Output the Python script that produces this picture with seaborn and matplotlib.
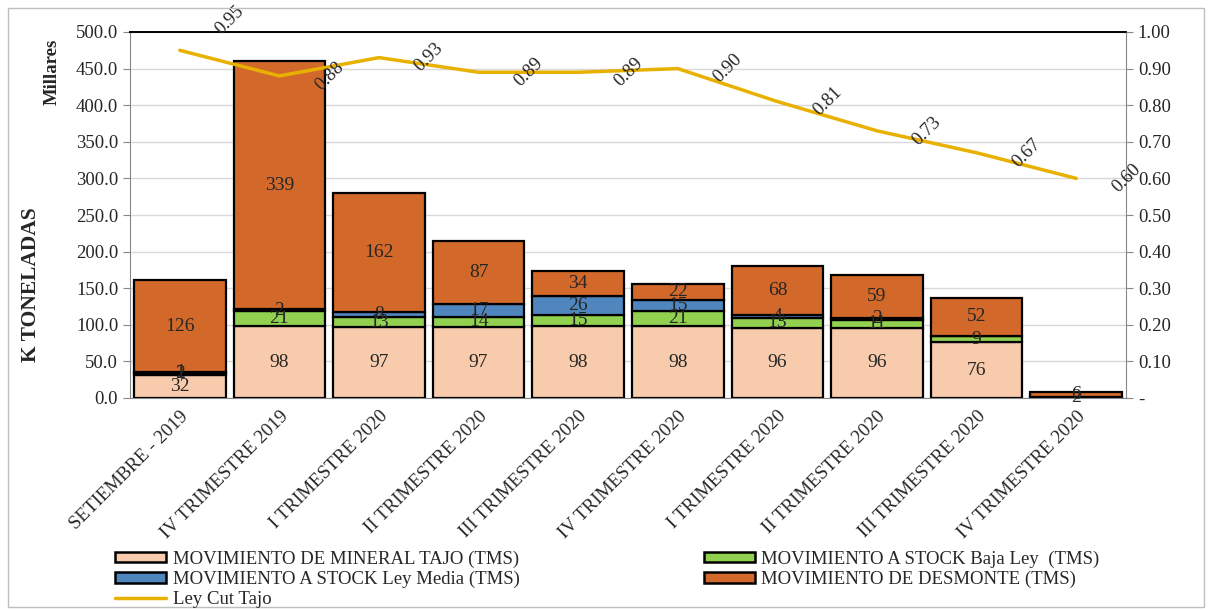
import numpy as np
import seaborn as sns
import matplotlib.pyplot as plt
import matplotlib.ticker as mticker
from matplotlib.patches import Patch, Rectangle
from matplotlib.lines import Line2D

periodos = ['SETIEMBRE - 2019', 'IV TRIMESTRE 2019', 'I TRIMESTRE 2020', 'II TRIMESTRE 2020',
            'III TRIMESTRE 2020', 'IV TRIMESTRE 2020', 'I TRIMESTRE 2020', 'II TRIMESTRE 2020',
            'III TRIMESTRE 2020', 'IV TRIMESTRE 2020']
mineral_tajo = [32, 98, 97, 97, 98, 98, 96, 96, 76, 2]
stock_baja = [2, 21, 13, 14, 15, 21, 13, 11, 9, 0]
stock_media = [1, 2, 8, 17, 26, 15, 4, 2, 0, 0]
desmonte = [126, 339, 162, 87, 34, 22, 68, 59, 52, 6]
ley_cut = [0.95, 0.88, 0.93, 0.89, 0.89, 0.90, 0.81, 0.73, 0.67, 0.60]

series = [('MOVIMIENTO DE MINERAL TAJO (TMS)', mineral_tajo, '#F8CBAD'),
          ('MOVIMIENTO A STOCK Baja Ley  (TMS)', stock_baja, '#92D050'),
          ('MOVIMIENTO A STOCK Ley Media (TMS)', stock_media, '#4F86BE'),
          ('MOVIMIENTO DE DESMONTE (TMS)', desmonte, '#D2692A')]

sns.set_style('white')
plt.rcParams['font.family'] = ['Liberation Serif', 'DejaVu Serif']

fig = plt.figure(figsize=(12.13, 6.10), dpi=100)
ax = fig.add_axes([130 / 1213, 1 - 398 / 610, 996 / 1213, 366 / 610])

pos = np.arange(len(periodos))
bottom = np.zeros(len(periodos))
for nombre, vals, col in series:
    vals = np.array(vals, dtype=float)
    sns.barplot(x=pos, y=vals, bottom=bottom, color=col, saturation=1, width=0.92,
                edgecolor='black', linewidth=1.6, errorbar=None, ax=ax, zorder=2)
    for i, v in enumerate(vals):
        if v > 0:
            ax.text(i, bottom[i] + v / 2, f'{v:.0f}', ha='center', va='center',
                    fontsize=14, zorder=5)
    bottom = bottom + vals

ax.set_xlim(-0.5, 9.5)
ax.set_ylim(0, 500)
ax.yaxis.set_major_locator(mticker.MultipleLocator(50))
ax.yaxis.set_major_formatter(mticker.FormatStrFormatter('%.1f'))
ax.grid(axis='y', color='#d9d9d9', lw=1, zorder=0)
ax.set_axisbelow(True)
ax.set_xlabel('')
ax.set_ylabel('')
ax.set_xticks(pos)
ax.set_xticklabels(periodos, rotation=45, ha='right', va='top', rotation_mode='anchor',
                   fontsize=13.7)
ax.set_xticks(np.arange(-0.5, 10, 1), minor=True)
ax.tick_params(axis='x', which='major', length=0, pad=7)
ax.tick_params(axis='x', which='minor', length=5, color='#868686', width=1)
ax.tick_params(axis='y', length=5, color='#868686', labelsize=13.5, left=True)
for s in ['left', 'right', 'bottom']:
    ax.spines[s].set_color('#868686')
ax.spines['top'].set_color('black')
ax.spines['top'].set_linewidth(1.4)

ax2 = ax.twinx()
sns.lineplot(x=pos, y=ley_cut, ax=ax2, color='#E8B100', lw=2.5, legend=False)
ax2.set_ylim(0, 1)
ax2.yaxis.set_major_locator(mticker.MultipleLocator(0.1))
ax2.yaxis.set_major_formatter(mticker.FuncFormatter(lambda v, p: '-' if abs(v) < 1e-9 else f'{v:.2f}'))
ax2.tick_params(axis='y', length=5, color='#868686', labelsize=13.5, right=True)
ax2.set_ylabel('')
for s in ['left', 'right', 'bottom', 'top']:
    ax2.spines[s].set_visible(False)
for i, v in enumerate(ley_cut):
    dy = 30 if i == 0 else 0
    ax2.annotate(f'{v:.2f}', (i, v), xytext=(50, dy), textcoords='offset pixels',
                 rotation=45, ha='center', va='center', fontsize=13.5)

fig.text(52 / 1213, 1 - 72 / 610, 'Millares', rotation=90, ha='center', va='center',
         fontsize=13.5, fontweight='bold')
fig.text(31 / 1213, 1 - 285 / 610, 'K TONELADAS', rotation=90, ha='center', va='center',
         fontsize=15.5, fontweight='bold')

h = {n: Patch(facecolor=c, edgecolor='black', lw=1.8) for n, _, c in series}
names = [s[0] for s in series]
handles = [h[names[0]], h[names[2]], Line2D([], [], color='#E8B100', lw=2.5),
           h[names[1]], h[names[3]]]
labels = [names[0], names[2], 'Ley Cut Tajo', names[1], names[3]]
fig.legend(handles, labels, ncol=2, loc='upper left', bbox_to_anchor=(106 / 1213, 1 - 541 / 610),
           frameon=False, fontsize=13.5, handlelength=2.7, handleheight=0.5, handletextpad=0.35,
           labelspacing=0.16, columnspacing=9.85, borderpad=0)

fig.patches.append(Rectangle((8 / 1213, 3 / 610), 1196 / 1213, 599 / 610, transform=fig.transFigure,
                             fill=False, edgecolor='#bfbfbf', lw=1))

fig.savefig('out.png', dpi=100)
